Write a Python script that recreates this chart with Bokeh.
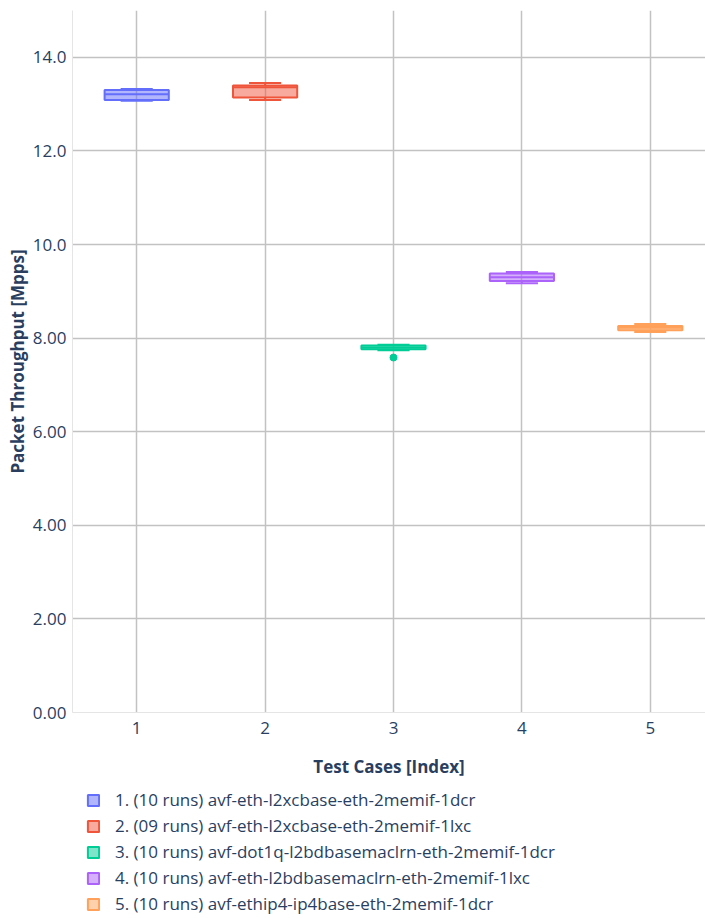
from bokeh.plotting import figure
from bokeh.layouts import column
from bokeh.models import (ColumnDataSource, Range1d, FixedTicker, CustomJSTickFormatter,
                          Legend, LegendItem)
from bokeh.embed import file_html
from bokeh.resources import INLINE

# ---- data ----
cases = [1, 2, 3, 4, 5]
names = [
    "1. (10 runs) avf-eth-l2xcbase-eth-2memif-1dcr",
    "2. (09 runs) avf-eth-l2xcbase-eth-2memif-1lxc",
    "3. (10 runs) avf-dot1q-l2bdbasemaclrn-eth-2memif-1dcr",
    "4. (10 runs) avf-eth-l2bdbasemaclrn-eth-2memif-1lxc",
    "5. (10 runs) avf-ethip4-ip4base-eth-2memif-1dcr",
]
lower = [13.07, 13.09, 7.74, 9.17, 8.13]
q1 = [13.09, 13.14, 7.76, 9.22, 8.17]
median = [13.21, 13.36, 7.80, 9.30, 8.22]
q3 = [13.30, 13.40, 7.84, 9.38, 8.26]
upper = [13.32, 13.45, 7.86, 9.41, 8.30]
outlier_case = [3]
outlier_value = [7.585]
colors = ["#636efa", "#ef553b", "#00cc96", "#ab63fa", "#ffa15a"]
y_ticks = [0, 2, 4, 6, 8, 10, 12, 14]

FONT = "Open Sans"
TXT = "#2a3f5f"
BOX_HALF = 0.25
CAP_HALF = 0.125
GRID = "#c2c2c2"
NAN = float("nan")

p = figure(width=705, height=785, output_backend="svg", toolbar_location=None,
           x_range=Range1d(0.5, 5.43), y_range=Range1d(0, 15),
           min_border_left=72, min_border_right=0, min_border_top=10,
           min_border_bottom=73)
p.outline_line_color = None
p.background_fill_color = "white"

src = ColumnDataSource(dict(
    x=cases, left=[c - BOX_HALF for c in cases], right=[c + BOX_HALF for c in cases],
    cl=[c - CAP_HALF for c in cases], cr=[c + CAP_HALF for c in cases],
    lower=lower, q1=q1, median=median, q3=q3, upper=upper, color=colors,
))

# whiskers
p.segment(x0="x", x1="x", y0="q3", y1="upper", source=src, line_color="color", line_width=2)
p.segment(x0="x", x1="x", y0="lower", y1="q1", source=src, line_color="color", line_width=2)
# caps
p.segment(x0="cl", x1="cr", y0="upper", y1="upper", source=src, line_color="color", line_width=2)
p.segment(x0="cl", x1="cr", y0="lower", y1="lower", source=src, line_color="color", line_width=2)
# boxes
p.quad(left="left", right="right", bottom="q1", top="q3", source=src,
       fill_color="color", fill_alpha=0.5, line_color="color", line_width=2)
# medians
p.segment(x0="left", x1="right", y0="median", y1="median", source=src,
          line_color="color", line_width=2)
# outliers
p.scatter(x=outlier_case, y=outlier_value, size=7, color=colors[2])

# axes
p.yaxis.ticker = FixedTicker(ticks=y_ticks)
p.yaxis.formatter = CustomJSTickFormatter(code="return tick.toPrecision(3);")
p.xaxis.ticker = FixedTicker(ticks=cases)
for ax in (p.xaxis[0], p.yaxis[0]):
    ax.major_tick_line_color = None
    ax.minor_tick_line_color = None
    ax.axis_line_color = "#e5e5e5"
    ax.major_label_text_font = FONT
    ax.major_label_text_font_size = "17px"
    ax.major_label_text_color = TXT
    ax.axis_label_text_font = FONT
    ax.axis_label_text_font_size = "17px"
    ax.axis_label_text_font_style = "bold"
    ax.axis_label_text_color = TXT
p.yaxis.major_tick_out = 0
p.yaxis.major_tick_in = 0
p.yaxis.axis_label = "Packet Throughput [Mpps]"
p.xaxis.axis_label = "Test Cases [Index]"
p.yaxis.major_label_standoff = 6
p.yaxis.axis_label_standoff = 1
p.xaxis.major_label_standoff = 3
p.xaxis.axis_label_standoff = 18

p.xgrid.ticker = FixedTicker(ticks=cases)
p.ygrid.ticker = FixedTicker(ticks=y_ticks[1:])
p.xgrid.grid_line_color = GRID
p.ygrid.grid_line_color = GRID
p.xgrid.grid_line_width = 1.5
p.ygrid.grid_line_width = 1.5

# ---- legend panel below the chart ----
p2 = figure(width=705, height=133, output_backend="svg", toolbar_location=None,
            x_range=Range1d(0, 1), y_range=Range1d(0, 1),
            x_axis_location=None, y_axis_location=None,
            min_border_left=0, min_border_right=0, min_border_top=0, min_border_bottom=0)
p2.outline_line_color = None
p2.grid.visible = False
leg_src = ColumnDataSource(dict(color=colors, nan=[NAN] * len(colors)))
leg_r = p2.quad(left="nan", right="nan", bottom="nan", top="nan", source=leg_src,
                fill_color="color", fill_alpha=0.5, line_color="color", line_width=2)
items = [LegendItem(label=name, renderers=[leg_r], index=i) for i, name in enumerate(names)]
legend = Legend(items=items, orientation="vertical", location=(14, 3),
                label_text_font=FONT, label_text_font_size="17px",
                label_text_color=TXT, glyph_width=14, glyph_height=14,
                label_standoff=15, spacing=3, padding=0, margin=0,
                border_line_color=None, background_fill_alpha=0, label_height=20)
p2.add_layout(legend, "center")

open("out.html", "w").write(file_html(column(p, p2, spacing=0), INLINE))
